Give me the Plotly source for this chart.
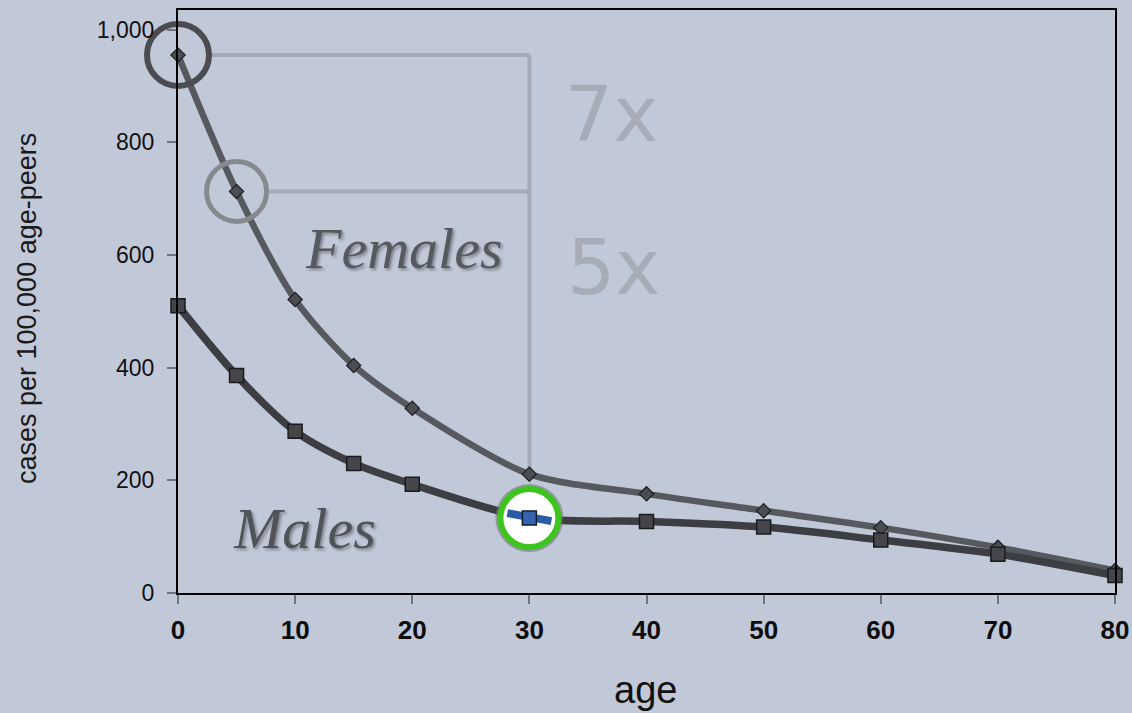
import plotly.graph_objects as go

# ---------------- data ----------------
ages = [0, 5, 10, 15, 20, 30, 40, 50, 60, 70, 80]
females = [955, 713, 521, 404, 328, 211, 176, 146, 116, 81, 40]
males = [510, 386, 287, 230, 193, 133, 127, 117, 94, 69, 31]
x_ticks = [0, 10, 20, 30, 40, 50, 60, 70, 80]
y_ticks = [0, 200, 400, 600, 800, 1000]
ratio_labels = ["7x", "5x"]
series_labels = ["Females", "Males"]

# ---------------- layout constants ----------------
W, H = 1132, 713
ML, MR, MT, MB = 178, 17, 10, 120
X_RANGE = [0, 80]
Y_RANGE = [0, 1035]
BG = "#c1c8d8"
px_per_x = (W - ML - MR) / (X_RANGE[1] - X_RANGE[0])
RING_R = 31
i30 = ages.index(30)

fig = go.Figure()

# Females curve
fig.add_trace(go.Scatter(
    x=ages, y=females, mode="lines+markers",
    line=dict(color="#56595f", width=6.5, shape="spline", smoothing=0.8),
    marker=dict(symbol="diamond", size=11, color="#4a4d53",
                line=dict(color="#1e1f22", width=1.2)),
    cliponaxis=False, showlegend=False, hoverinfo="x+y"))

# Males curve
fig.add_trace(go.Scatter(
    x=ages, y=males, mode="lines+markers",
    line=dict(color="#3c3e43", width=7.5, shape="spline", smoothing=0.8),
    marker=dict(symbol="square", size=14, color="#44464b",
                line=dict(color="#1a1b1d", width=1.5)),
    cliponaxis=False, showlegend=False, hoverinfo="x+y"))

# highlight rings
fig.add_trace(go.Scatter(
    x=[ages[0]], y=[females[0]], mode="markers",
    marker=dict(symbol="circle-open", size=2 * RING_R, color="#4a4c52",
                line=dict(width=6)),
    cliponaxis=False, showlegend=False, hoverinfo="skip"))
fig.add_trace(go.Scatter(
    x=[ages[1]], y=[females[1]], mode="markers",
    marker=dict(symbol="circle-open", size=2 * RING_R - 2, color="#86898f",
                line=dict(width=5)),
    cliponaxis=False, showlegend=False, hoverinfo="skip"))
# green ring (shadow + white fill)
fig.add_trace(go.Scatter(
    x=[ages[i30]], y=[males[i30]], mode="markers",
    marker=dict(symbol="circle", size=2 * RING_R + 6, color="rgba(110,112,118,0.55)",
                line=dict(width=0)),
    cliponaxis=False, showlegend=False, hoverinfo="skip"))
fig.add_trace(go.Scatter(
    x=[ages[i30]], y=[males[i30]], mode="markers",
    marker=dict(symbol="circle", size=2 * RING_R - 4, color="white",
                line=dict(width=6, color="#3ec41f")),
    cliponaxis=False, showlegend=False, hoverinfo="skip"))

shapes = []
ref_line = dict(color="#a5aab6", width=4)
# horizontal guide from the first ring
shapes.append(dict(type="line", xref="x", yref="y", layer="below",
                   x0=ages[0] + RING_R / px_per_x, x1=ages[i30],
                   y0=females[0], y1=females[0], line=ref_line))
# horizontal guide from the second ring
shapes.append(dict(type="line", xref="x", yref="y", layer="below",
                   x0=ages[1] + RING_R / px_per_x, x1=ages[i30],
                   y0=females[1], y1=females[1], line=ref_line))
# vertical guide at age 30
shapes.append(dict(type="line", xref="x", yref="y", layer="below",
                   x0=ages[i30], x1=ages[i30],
                   y0=females[0], y1=females[i30], line=ref_line))
# blue highlighted segment + square inside green ring
shapes.append(dict(type="line", xref="x", yref="y", layer="above",
                   xsizemode="pixel", ysizemode="pixel",
                   xanchor=ages[i30], yanchor=males[i30],
                   x0=-22, x1=22, y0=5, y1=-3,
                   line=dict(color="#2c5ca6", width=8)))
shapes.append(dict(type="rect", xref="x", yref="y", layer="above",
                   xsizemode="pixel", ysizemode="pixel",
                   xanchor=ages[i30], yanchor=males[i30],
                   x0=-7, x1=7, y0=-7, y1=7,
                   fillcolor="#3464ae", line=dict(color="#121c30", width=1.5)))

annotations = []
ratio_font = dict(family="DejaVu Sans, Open Sans, sans-serif", size=76,
                  color="#a7acb8", weight="normal")
annotations.append(dict(x=37.0, y=850, xref="x", yref="y", text=ratio_labels[0],
                        showarrow=False, font=ratio_font))
annotations.append(dict(x=37.2, y=578, xref="x", yref="y", text=ratio_labels[1],
                        showarrow=False, font=ratio_font))
annotations.append(dict(x=19.3, y=612, xref="x", yref="y",
                        text="<i>" + series_labels[0] + "</i>", showarrow=False,
                        font=dict(family="Liberation Serif, DejaVu Serif, serif", size=58,
                                  color="#56595f",
                                  shadow="2px 2px 3px rgba(0,0,0,0.35)")))
annotations.append(dict(x=10.8, y=114, xref="x", yref="y",
                        text="<i>" + series_labels[1] + "</i>", showarrow=False,
                        font=dict(family="Liberation Serif, DejaVu Serif, serif", size=58,
                                  color="#505359",
                                  shadow="2px 2px 3px rgba(0,0,0,0.35)")))
# axis titles
annotations.append(dict(x=(27 - ML) / (W - ML - MR), y=(H - MB - 309) / (H - MT - MB),
                        xref="paper", yref="paper", text="cases per 100,000 age-peers",
                        textangle=-90, showarrow=False, xanchor="center", yanchor="middle",
                        font=dict(family="Liberation Sans, Arial, sans-serif", size=27,
                                  color="#1a1a1a")))
annotations.append(dict(x=(645 - ML) / (W - ML - MR), y=(H - MB - 690) / (H - MT - MB),
                        xref="paper", yref="paper", text="age",
                        showarrow=False, xanchor="center", yanchor="middle",
                        font=dict(family="Liberation Sans, Arial, sans-serif", size=38,
                                  color="#111111")))

fig.update_layout(
    width=W, height=H,
    margin=dict(l=ML, r=MR, t=MT, b=MB, autoexpand=False),
    paper_bgcolor=BG, plot_bgcolor=BG,
    shapes=shapes, annotations=annotations,
    showlegend=False,
)
fig.update_xaxes(
    range=X_RANGE, tickvals=x_ticks, showgrid=False, zeroline=False,
    showline=True, mirror=True, linecolor="#000000", linewidth=2,
    ticks="outside", ticklen=9, tickwidth=2, tickcolor="#6f737b",
    ticklabelstandoff=4,
    tickfont=dict(family="Liberation Sans Narrow, Liberation Sans, Arial", size=26,
                  color="#0d0d0d", weight="bold"),
)
fig.update_yaxes(
    range=Y_RANGE, tickvals=y_ticks, tickformat=",", showgrid=False, zeroline=False,
    showline=True, mirror=True, linecolor="#000000", linewidth=2,
    ticks="outside", ticklen=9, tickwidth=2, tickcolor="#6f737b",
    ticklabelstandoff=8,
    tickfont=dict(family="Liberation Sans, Arial", size=23, color="#111111"),
)

fig.write_html(
    "out.html",
    config={"displayModeBar": False},
    post_script="document.body.style.margin='0';document.body.style.overflow='hidden';",
)
